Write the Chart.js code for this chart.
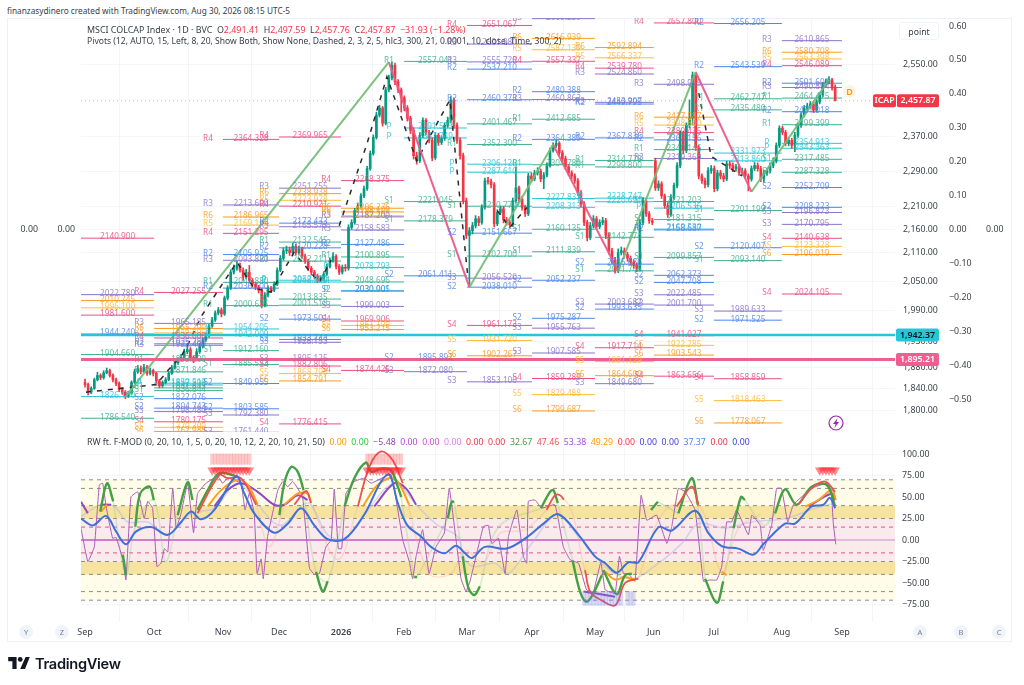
<!DOCTYPE html>
<html><head><meta charset="utf-8">
<style>
html,body{margin:0;padding:0;background:#fff;width:1024px;height:685px;overflow:hidden;font-family:"Noto Sans",sans-serif}
#panel{position:absolute;left:7px;top:18px;width:1005px;height:624px;border:1px solid #eef0f5;box-sizing:border-box}
canvas{position:absolute;left:0}
.t{position:absolute;white-space:nowrap;font-size:8.7px;color:#3a3d47;line-height:11px}
.b{position:absolute;width:14px;height:14px;border-radius:50%;background:#f0f3fa;color:#787b86;font-size:7.5px;line-height:14px;text-align:center}
.r{color:#f23645}
</style></head><body>
<div id="panel"></div>
<canvas id="c1" width="1024" height="414" style="top:18px"></canvas>
<canvas id="c2" width="1024" height="209" style="top:433px"></canvas>
<div class="t" style="left:7px;top:5px;font-size:8.25px">finanzasydinero created with TradingView.com, Aug 30, 2026 08:15 UTC-5</div>
<div class="t" style="left:87px;top:24px;font-size:8.9px">MSCI COLCAP Index · 1D · BVC &nbsp;O<span class="r">2,491.41</span> &nbsp;H<span class="r">2,497.59</span> &nbsp;L<span class="r">2,457.76</span> &nbsp;C<span class="r">2,457.87</span> &nbsp;<span class="r">−31.93 (−1.28%)</span></div>
<div class="t" style="left:87px;top:36px;font-size:8.55px">Pivots (12, AUTO, 15, Left, 8, 20, Show Both, Show None, Dashed, 2, 3, 2, 5, hlc3, 300, 21, 0.0001, 10, close, Time, 300, 2)</div>
<div class="t" style="left:899px;top:22px;width:40px;height:18px;line-height:18px;text-align:center;border:1px solid #f0f3fa;border-radius:3px;box-sizing:border-box">point</div>
<div class="t" style="left:87px;top:437px;font-size:8.75px">RW ft. F-MOD (0, 20, 10, 1, 5, 0, 20, 10, 12, 2, 20, 10, 21, 50) &nbsp;<span style="color:#ff9800">0.00</span> &nbsp;<span style="color:#2ecc40">0.00</span> &nbsp;<span style="color:#8e44ad">−5.48</span> &nbsp;<span style="color:#b14ad6">0.00</span> &nbsp;<span style="color:#d64ae0">0.00</span> &nbsp;<span style="color:#dd7fe8">0.00</span> &nbsp;<span style="color:#f23645">0.00</span> &nbsp;<span style="color:#f23645">0.00</span> &nbsp;<span style="color:#43a047">32.67</span> &nbsp;<span style="color:#ef5350">47.46</span> &nbsp;<span style="color:#a04fe0">53.38</span> &nbsp;<span style="color:#ff9800">49.29</span> &nbsp;<span style="color:#f23645">0.00</span> &nbsp;<span style="color:#3f3fd8">0.00</span> &nbsp;<span style="color:#3f3fd8">0.00</span> &nbsp;<span style="color:#4f86ec">37.37</span> &nbsp;<span style="color:#f23645">0.00</span> &nbsp;<span style="color:#3f3fd8">0.00</span></div>
<div class="b" style="left:19px;top:625px">Y</div><div class="b" style="left:55px;top:625px">Z</div>
<div class="b" style="left:913px;top:625px">A</div><div class="b" style="left:954px;top:625px">B</div><div class="b" style="left:992px;top:625px">C</div>
<div class="t" style="left:843px;top:85px;width:13px;height:13px;line-height:13px;text-align:center;color:#ff9800;background:#fff3e0;border-radius:50%;font-size:9px;font-weight:600">D</div>
<svg style="position:absolute;left:828px;top:415px" width="16" height="16" viewBox="0 0 16 16"><circle cx="8" cy="8" r="7" fill="#fff" stroke="#9c27b0" stroke-width="1.2"/><path d="M9.5 3 5 9h2.6L6.5 13 11 7H8.4z" fill="#9c27b0"/></svg>
<svg style="position:absolute;left:8px;top:657px" width="22" height="12" viewBox="0 0 36 20"><path d="M0 0h14v20H7V7H0zM29 0h7l-8 20h-8z" fill="#131722"/><circle cx="20" cy="4" r="4" fill="#131722"/></svg>
<div class="t" style="left:35px;top:654px;font-size:14.6px;line-height:20px;font-weight:600;color:#131722;font-family:Inter,sans-serif;letter-spacing:-.3px">TradingView</div>
<script src="https://cdn.jsdelivr.net/npm/chart.js@4"></script>
<script>
const monthPos=[0,22.3,44.5,62.6,82.6,102.9,123.2,144.2,164.5,183.5,202.9,224.8,244.2];
const monthLabels=["Sep","Oct","Nov","Dec","2026","Feb","Mar","Apr","May","Jun","Jul","Aug","Sep"];
const priceTicks=[2550,2370,2290,2210,2160,2110,2050,1990,1930,1880,1840,1800];
const pointTicks=[0.6,0.5,0.4,0.3,0.2,0.1,0,-0.1,-0.2,-0.3,-0.4,-0.5];
const oscTicks=[100,75,50,25,0,-25,-50,-75];
const opens=[1852,1848,1834,1841,1857,1865,1861,1870,1874,1865,1857,1850,1839,1834,1827,1832,1852,1872,1878,1872,1880,1869,1874,1869,1855,1846,1852,1857,1869,1880,1889,1895,1899,1910,1914,1899,1895,1910,1920,1933,1941,1960,1972,1986,1992,1984,2016,2036,2069,2077,2083,2073,2059,2069,2052,2044,2038,2032,2002,2022,2036,2032,2044,2073,2098,2114,2116,2110,2123,2110,2118,2102,2092,2077,2069,2061,2052,2056,2065,2081,2094,2102,2081,2069,2079,2077,2164,2175,2201,2212,2234,2250,2296,2331,2369,2423,2440,2403,2485,2515,2547,2505,2485,2465,2440,2415,2386,2326,2314,2374,2410,2381,2362,2321,2374,2357,2367,2398,2410,2460,2398,2362,2326,2223,2147,2157,2168,2183,2175,2208,2268,2266,2259,2172,2197,2205,2181,2175,2170,2223,2252,2227,2208,2194,2279,2272,2286,2290,2272,2281,2303,2338,2350,2355,2333,2319,2300,2286,2279,2268,2241,2216,2175,2142,2168,2183,2166,2175,2179,2147,2114,2094,2073,2110,2114,2106,2098,2090,2083,2077,2175,2223,2194,2179,2314,2252,2261,2234,2212,2192,2230,2257,2303,2379,2338,2398,2415,2522,2345,2279,2268,2259,2291,2296,2250,2286,2279,2272,2307,2303,2296,2300,2286,2291,2279,2272,2296,2303,2296,2272,2286,2291,2303,2314,2350,2391,2381,2355,2362,2350,2374,2398,2423,2440,2445,2450,2435,2455,2472,2497,2505,2510,2491.41];
const closes=[1848,1834,1841,1857,1865,1861,1870,1874,1865,1857,1850,1839,1834,1827,1832,1852,1872,1878,1872,1880,1869,1874,1869,1855,1846,1852,1857,1869,1880,1889,1895,1899,1910,1914,1899,1895,1910,1920,1933,1941,1960,1972,1986,1992,1984,2016,2036,2069,2077,2083,2073,2059,2069,2052,2044,2038,2032,2002,2022,2036,2032,2044,2073,2098,2114,2116,2110,2123,2110,2118,2102,2092,2077,2069,2061,2052,2056,2065,2081,2094,2102,2081,2069,2079,2077,2164,2175,2201,2212,2234,2250,2296,2331,2369,2423,2440,2403,2485,2515,2547,2505,2485,2465,2440,2415,2386,2326,2314,2374,2410,2381,2362,2321,2374,2357,2367,2398,2410,2460,2398,2362,2326,2223,2147,2157,2168,2183,2175,2208,2268,2266,2259,2172,2197,2205,2181,2175,2170,2223,2252,2227,2208,2194,2279,2272,2286,2290,2272,2281,2303,2338,2350,2355,2333,2319,2300,2286,2279,2268,2241,2216,2175,2142,2168,2183,2166,2175,2179,2147,2114,2094,2073,2110,2114,2106,2098,2090,2083,2077,2175,2223,2194,2179,2175,2252,2261,2234,2212,2192,2230,2257,2303,2379,2338,2398,2415,2522,2345,2279,2268,2259,2291,2296,2250,2286,2279,2272,2307,2303,2296,2300,2286,2291,2279,2272,2296,2303,2296,2272,2286,2291,2303,2314,2350,2391,2381,2355,2362,2350,2374,2398,2423,2440,2445,2450,2435,2455,2472,2497,2505,2510,2489.8,2457.87];
const highs=[1858,1851,1844,1860,1871,1868,1874,1879,1877,1868,1860,1853,1842,1837,1836,1855,1877,1884,1883,1886,1884,1879,1877,1871,1858,1855,1861,1872,1884,1892,1899,1905,1915,1925,1918,1902,1916,1926,1937,1946,1964,1977,1990,1997,1996,2020,2041,2074,2084,2092,2088,2078,2075,2083,2056,2048,2042,2036,2027,2041,2040,2049,2078,2104,2120,2124,2122,2130,2128,2124,2122,2107,2096,2081,2073,2065,2061,2070,2086,2099,2110,2106,2085,2084,2085,2170,2181,2206,2218,2239,2256,2301,2337,2375,2430,2447,2444,2491,2522,2556,2553,2511,2490,2470,2446,2420,2392,2334,2380,2416,2414,2386,2368,2380,2379,2373,2404,2418,2468,2465,2404,2368,2332,2229,2164,2175,2190,2188,2214,2274,2276,2272,2264,2203,2211,2210,2186,2180,2229,2300,2256,2232,2213,2285,2286,2292,2298,2295,2287,2309,2344,2356,2362,2359,2338,2325,2305,2291,2284,2273,2246,2221,2180,2175,2190,2188,2181,2186,2184,2152,2119,2100,2118,2122,2120,2111,2103,2095,2088,2182,2230,2228,2199,2184,2320,2268,2266,2238,2218,2237,2263,2310,2385,2384,2404,2460,2530,2526,2350,2284,2274,2298,2303,2302,2292,2292,2285,2313,2313,2309,2306,2305,2297,2296,2284,2302,2310,2309,2301,2292,2297,2309,2321,2356,2397,2396,2386,2369,2367,2381,2403,2429,2446,2452,2456,2456,2462,2478,2504,2512,2518,2514,2497.59];
const lows=[1843,1829,1831,1839,1855,1857,1858,1868,1862,1853,1846,1835,1830,1822,1824,1830,1850,1869,1868,1870,1865,1866,1864,1851,1842,1843,1849,1855,1867,1877,1886,1892,1896,1906,1895,1889,1893,1907,1917,1930,1938,1957,1969,1982,1978,1981,2012,2033,2065,2073,2069,2052,2055,2048,2038,2033,2026,1996,1998,2018,2027,2029,2041,2070,2094,2108,2104,2106,2105,2106,2098,2087,2072,2063,2056,2047,2049,2052,2062,2078,2090,2076,2064,2065,2071,2073,2160,2171,2197,2208,2230,2246,2292,2327,2365,2418,2396,2399,2480,2510,2498,2478,2430,2433,2408,2378,2318,2306,2310,2369,2375,2356,2314,2317,2350,2352,2362,2393,2405,2391,2355,2318,2216,2140,2042,2150,2163,2168,2171,2204,2260,2252,2165,2168,2192,2174,2169,2163,2166,2218,2221,2202,2188,2190,2266,2268,2281,2266,2250,2277,2299,2334,2345,2327,2313,2294,2280,2272,2262,2235,2209,2168,2135,2138,2163,2160,2161,2170,2140,2107,2087,2067,2068,2105,2100,2092,2084,2077,2070,2073,2170,2188,2173,2170,2246,2246,2228,2206,2186,2188,2226,2252,2298,2330,2333,2392,2400,2338,2272,2262,2252,2254,2285,2243,2245,2272,2266,2268,2296,2289,2290,2280,2281,2273,2245,2267,2291,2290,2266,2265,2280,2286,2298,2309,2345,2375,2349,2349,2343,2335,2369,2393,2418,2434,2439,2429,2430,2450,2467,2491,2500,2484,2457.76];
const tagLast=2457.87, lineCyan=1942.37, linePink=1895.21;
const zigIdx=[13,98,124,151,172,197,215,240];
const zigPrice=[1825,2555,2038,2352,2071,2530,2243,2510];
const dashIdx=[0.3,23,27,31,33.5,37.4,43,49,54.5,60,67.4,75.5,79.4,80,82,91,97.4,107,117.7,123.5,125,133,137,142.6,144,198,202,212];
const dashPrice=[1834,1848,1876,1901,1928,1978,2032,2090,2036,2028,2110,2048,2094,null,2168,2355,2518,2314,2460,2059,null,2201,2164,2208,null,2477,2324,2279];
const pivotEdges=[-1.3,22.3,44.5,62.6,82.6,102.9,123.2,144.2,164.5,183.5,202.9,224.8,244.2];
const pivSep=[["R4",2140.9],["R3",2022.78],["R6",2010.745],["R5",1996.1],["R4",1981.6],["R2",1944.24],["R1",1904.66],["P",1826.1],["S1",1786.54]];
const pivOct=[["R4",2027.255],["R3",1965.185],["R6",1955.2],["R5",1946.4],["R4",1936.6],["R2",1925.283],["R3",1922.4],["R1",1893.2],["R1",1871.846],["P",1850.513],["P",1847.2],["S1",1841.845],["S1",1836.844],["S2",1822.076],["S2",1804.743],["S3",1798.48],["S4",1780.175],["S5",1770.3],["S6",1762.988]];
const pivNov=[["R4",2364.328],["R3",2213.6],["R6",2186.965],["R5",2169.19],["R4",2151.295],["R2",2105.925],["R3",2093.82],["R1",2047.88],["R2",2036.1],["R1",2000.625],["P",1954.205],["P",1942.009],["S1",1912.16],["S1",1885.533],["S2",1849.955],["S2",1803.585],["S3",1792.38],["S3",1761.44]];
const pivDec=[["R4",2369.965],["R3",2251.255],["R6",2238.938],["R5",2223.928],["R4",2210.921],["R2",2173.433],["R3",2165.573],["R1",2132.545],["R2",2120.228],["R1",2092.211],["P",2052.3],["P",2048.5],["S1",2013.835],["S1",2001.518],["S2",1973.501],["S2",1933.744],["S3",1928.153],["S3",1895.125],["S4",1882.806],["S5",1868.798],["S6",1854.791],["S4",1776.415]];
const pivJan=[["R4",2268.375],["R6",2206.276],["R6",2198.1],["R5",2189.583],["R3",2187.2],["R3",2158.583],["R2",2127.486],["R1",2100.895],["P",2078.793],["S1",2048.696],["P",2030.905],["S2",2030.001],["S3",1999.003],["S4",1969.906],["S5",1961.1],["S6",1953.215],["S4",1874.425]];
const pivFeb=[["R1",2557.041],["P",2391.523],["P",2367.749],["S1",2221.045],["S1",2178.379],["S2",2061.411],["S2",1895.892],["S3",1872.08]];
const pivMar=[["R4",2651.067],["R3",2601.98],["R3",2555.72],["R2",2537.21],["R2",2460.373],["R1",2401.467],["R1",2352.3],["P",2306.12],["P",2287.61],["S1",2210.77],["S2",2151.667],["S1",2102.7],["S3",2056.52],["S2",2038.01],["S4",1961.173],["S5",1931.72],["S6",1902.267],["S3",1853.1]];
const pivApr=[["R3",2669.239],["R6",2616.939],["R5",2587.139],["R4",2557.337],["R2",2480.388],["R3",2460.863],["R1",2412.685],["R2",2364.389],["R1",2304.78],["P",2227.837],["P",2208.313],["S1",2160.135],["S1",2111.839],["S2",2052.237],["S2",1975.287],["S3",1955.763],["S3",1907.585],["S4",1859.289],["S5",1829.488],["S6",1799.687]];
const pivMay=[["R6",2592.894],["R5",2566.337],["R4",2539.78],["R3",2524.86],["R3",2453.907],["R2",2449.795],["R2",2367.836],["R1",2314.778],["R1",2299.8],["P",2228.747],["P",2220.691],["S1",2142.774],["S2",2085.686],["S1",2071.746],["S3",2003.687],["S2",1993.635],["S4",1917.714],["S5",1891.129],["S6",1864.6],["S3",1849.68]];
const pivJun=[["R4",2657.8],["R3",2498.955],["R6",2417.587],["R5",2398.6],["R4",2380.435],["R2",2363.156],["R1",2340.146],["R3",2319.36],["S1",2221.203],["P",2206.536],["S1",2181.315],["P",2160.53],["R2",2158.687],["S1",2099.857],["S2",2062.373],["S2",2047.708],["S3",2022.485],["S3",2001.7],["S4",1941.027],["S5",1922.285],["S6",1903.543],["S4",1863.656]];
const pivJul=[["R2",2656.205],["R2",2543.539],["R1",2462.747],["R1",2435.48],["P",2331.973],["P",2313.86],["S1",2201.199],["S2",2120.407],["S1",2093.14],["S3",1989.633],["S2",1971.525],["S4",1858.859],["S5",1818.463],["S6",1778.067]];
const pivAug=[["R3",2610.865],["R6",2580.708],["R5",2563.398],["R4",2546.089],["R2",2501.601],["R3",2490.894],["R1",2464.475],["R2",2431.018],["R1",2399.399],["P",2354.913],["P",2343.363],["S1",2317.485],["S1",2287.328],["S2",2252.709],["S2",2208.223],["S3",2196.873],["S3",2170.795],["S4",2140.638],["S5",2123.328],["S6",2106.019],["S4",2024.105]];
const pivotCols=[pivSep,pivOct,pivNov,pivDec,pivJan,pivFeb,pivMar,pivApr,pivMay,pivJun,pivJul,pivAug];
const bandTop=[70,40,25,-25,-40], bandBottom=[40,25,-25,-40,-70];
const bandColors=["#fffde9","#f7e3a0","#f9ebeb","#f7e3a0","#fffde9"];
const grayLevels=[70,60,40,25,-25,-40,-60,-70], pinkLevels=[15,-15];
const blueX=[-1.3,2.5,6.8,10,13.2,16.5,21.3,26.7,31,34.2,37.4,41.7,48.7,51.4,54.6,61,65.4,69.7,74,78.3,83.7,90,95.5,98.2,100.9,104,108.4,111.6,115.9,119.7,122.6,124.8,129,136,142.5,147.9,152.7,159.2,164.5,167.8,171.5,175.3,178.5,185,189.3,196.8,201.1,205.4,210.8,215.6,218.8,225.8,229,234.4,238.2,240.3,242];
const blueY=[25,17,28,10,-5,10,15,6,21,33,24,35,74,54,31,8.5,19,37,17,1,1,29,68,76,43,17,4,-8,-15.5,-6.6,-15.5,-21,-8,-10,3,19,30,6,-19,-27,-38,-26,-26,15,11,34,8,-7,-10,-17,-5,19,19,39,41,49,37];
const thinX=[-1.3,0.9,3,4.6,5.7,6.8,8.9,10,12.2,13.2,14.8,17,19.1,20.2,21.8,23.2,24.5,25.6,26.7,28.3,29.4,31,33.1,35,36.3,39,42.8,44.4,46,50.3,51.6,53,54.6,55.5,56.8,57.5,58.9,62.2,63.8,65.4,67,68.6,70.2,72.4,74,75.6,77.7,79.4,80.4,81.7,82.8,84.2,86.9,90.1,92.3,98.7,102.5,104.6,105.7,106.8,108.9,111,113.2,115.9,117.5,119.7,121.3,122.9,124.2,128.5,130.1,131.2,133.4,135.5,136.6,139.3,141.4,142.5,143,145.2,147.3,151.6,154.3,156.5,159.2,161.8,164,166.4,167.8,171,172.4,173.7,175.3,177.4,179.4,181.2,184.4,187.7,189.3,191.4,193.6,196.8,199.5,201.6,203.8,205.4,207,208.6,210.2,214,215.1,217.8,218.8,221.5,223.1,224.7,226.7,228.5,234.4,239.3,240.7,241.4,242.2];
const thinY=[13.6,-25,-8,64,66,39,2,3,-23,-46.5,50,56,25,45,37,-31,-27,-10,-14,60,14,31,66,8.5,54,66,74,66,72,66,35,54,31,-39,-22,-45,4,58,68,62,68,60,50,-33,-40,-39,-8,0,59,-10,-10,54,68,72,66,76,0,-25,-45,-19,12,-39,-8,8,60,0,-45,-60,-48,15.5,17,-4,2,-39,4,35,-19,-27,45,46.5,37,41,-8,-23,-27,-58,-60,-26,-58,-62,-19,-39,-39,-48,52,23,29,-4,16,60,56,35,-48,-46.5,-46.5,-31,21,21,35,6,29,17,-12,17,60,60,21,41,60,66,58,19,-5];
const greenX=[4.9,7.1,9.1,null,12.2,13.2,null,16.2,17.8,20.8,22.2,null,29.9,33.1,34.7,null,36.3,39.6,43.3,49.2,null,62.7,64.3,66.5,68.6,70.5,null,74.5,76.7,78.3,null,83.7,86.9,90.6,92.3,95.5,98.7,100.9,102,null,106.2,107.1,null,117,118.3,119.1,null,121.8,123.7,125.6,127.4,null,147.1,150,151.1,152.5,null,157.3,159.7,161.8,164,166.7,null,167.2,171.5,174.2,176.4,null,182.6,184.8,null,191.4,195.7,197.7,null,200,203.8,205.9,null,209.2,211.6,212.9,null,222.6,225.8,229.6,234.4,239.3,242];
const greenY=[33,66,45,null,-17,-41,null,15.5,54,62,46.5,null,29,67,46.5,null,35,58,77.5,74,null,29,66,85,79.5,58,null,-37,-60,-48,null,39,72,90,79.5,83,81,62,50,null,-43,-43,null,25,44.5,44.5,null,-19,-56,-64,-54,null,37,56,58,43,null,-24,-60,-72,-62,-41,null,-35,-63,-41,-39,null,35,44.5,null,31,72,41,null,-45,-73,-48,null,13.6,50,46.5,null,31,59,41,62,64,39];
const redX=[36.3,43.3,46,50.3,55.2,null,67.5,71.3,72.9,null,88,91.7,95.5,99.2,102.5,null,148.9,151.6,153.2,154.5,null,161.3,162.9,165.6,171,174.2,178.5,null,190.9,195.7,197.9,null,230.1,234.4,238.7,242];
const redY=[31,75.5,72,72,41,null,41,57,43,null,39,85,103,93,66,null,35,52,52,47,null,-35,-60,-68,-76,-50,-45,null,39,62,41,null,41,60,68,56];
const orangeX=[5.2,7.1,null,39.6,43.9,49.2,52.5,55.7,null,64.3,68.6,71.8,72.9,null,89.6,94.4,99.8,104.6,null,167.8,171,174.2,177.4,null,205.4,207,null,232.3,236.6,240.9,242.2];
const orangeY=[33,41,null,39,58,70,64,41,null,41,54,54,43,null,39,64,72,41,null,-37,-46,-43,-46.5,null,-37,-41,null,39,46.5,58,46.5];
const violetX=[-1.3,0.9,null,5,8.4,null,41.7,46,50.3,55.7,61,64.3,68.6,71.8,null,93.3,99.8,103.5,106.8,null,160.8,164.5,171,null,233.4,240.9,242];
const violetY=[44.5,31,null,41,41,null,39,58,66,56,41,41,52,46.5,null,39,66,60,41,null,-60,-62,-66,null,39,54,46.5];
const lavX=[-1.3,5,9.5,13.8,20.2,26.7,34.2,41.7,49.2,55.7,63.2,71.8,78.3,83.7,90,99.8,107.3,113.8,120.2,122.6,125.8,132.3,136.6,144.1,152.2,159.2,167.8,176.4,185,192.5,197.9,206.5,215.1,225.8,235.5,242];
const lavY=[27,41,39,21,21,6,31,37,66,41,17,43,6,2,29,66,39,17,4,-23,-31,-27,-39,-4,29,4,-31,-45,-27,-4,19,14,21,25,37,43];
const paleGreenX=[9.1,13.2,16.2,22.2,26,29.9,null,70.5,74.5,78.3,83.7,null,102,106.2,107.1,117,null,119.1,121.8,null,127.4,133.4,147.1,null,152.5,157.3,null,184.8,191.4,null,197.7,200,null,205.9,209.2,null,212.9,219,222.6];
const paleGreenY=[45,-41,15.5,46.5,-25,29,null,58,-37,-48,39,null,50,-43,-43,25,null,44.5,-19,null,-54,15,37,null,43,-24,null,44.5,31,null,41,-45,null,-48,13.6,null,46.5,17,31];
const peachX=[55.2,59.5,64.3,null,72.9,81.5,88,null,102.5,111,118,122.6,128.5,134,142,154.5,161.3,null,178.5,187,197.9,205.4,211,218];
const peachY=[41,-8,41,null,43,-23,39,null,66,-39,-39,-12,-26,8,12,47,-35,null,-45,34,41,-37,15,30];
const sellIdx=[41,42,43,44,45,46,47,48,49,50,51,52,53,null,91,92,93,94,95,96,97,98,99,100,101,102,null,237,238,239,240,241,242];
const buyBlockIdx=[161,162,163,164,165,166,167,168,169,170,171,172,173,175,176,177];
const sellBlockIdx=[41,42,43,44,45,46,47,48,49,50,51,52,53,91,92,93,94,95,96,97,98,99,100,101,102];

const bars=closes.map((_,i)=>i);
const xMin=-1.3,xMax=261.3;
const pivotColor={R1:"#3fb18f",S1:"#3fb18f",R2:"#4f86ec",S2:"#4f86ec",R3:"#8a74cc",S3:"#8a74cc",R4:"#ec4f82",S4:"#ec4f82",R5:"#fdbb3e",S5:"#fdbb3e",R6:"#fb9a1f",S6:"#fb9a1f",P:"#2cc5d8"};
const fmt2=v=>v.toLocaleString("en-US",{minimumFractionDigits:2,maximumFractionDigits:2});
const fmtP=v=>(v<0?"−":"")+Math.abs(v).toFixed(2);
const FONT='"Noto Sans",sans-serif';
const tickFont={family:FONT,size:8.8};
const tickColor="#3f424c";
const grid="#f3f5f9";
function pts(xs,ys){return xs.map((x,i)=>({x:x,y:ys[i]}));}
function line(xs,ys,color,width,extra){return Object.assign({type:"line",data:pts(xs,ys),borderColor:color,borderWidth:width,pointRadius:0,tension:0,spanGaps:false,fill:false},extra||{});}
function noPad(s){s.paddingTop=0;s.paddingBottom=0;s.paddingLeft=0;s.paddingRight=0;}

/* pivot level segments, one dataset per colour */
const segByColor={};
pivotCols.forEach((col,c)=>{col.forEach(l=>{
  const k=pivotColor[l[0]];(segByColor[k]=segByColor[k]||[]);
  segByColor[k].push({x:pivotEdges[c],y:l[1]},{x:pivotEdges[c+1],y:l[1]},{x:pivotEdges[c+1],y:null});
});});
const pivotSets=Object.keys(segByColor).map(k=>({type:"line",data:segByColor[k],borderColor:k,borderWidth:1,pointRadius:0,spanGaps:false,order:9}));

const pivotLabelPlugin={id:"pivotLabels",afterDatasetsDraw(ch){
  const {ctx,chartArea:a,scales}=ch;const X=scales.x,Y=scales.y;
  ctx.save();ctx.beginPath();ctx.rect(a.left,a.top,a.right-a.left,a.bottom-a.top);ctx.clip();
  ctx.font='8.2px '+FONT;ctx.textAlign="center";ctx.textBaseline="middle";
  pivotCols.forEach((col,c)=>{
    const s=X.getPixelForValue(pivotEdges[c]),e=X.getPixelForValue(pivotEdges[c+1]);
    col.forEach(l=>{
      const yy=Y.getPixelForValue(l[1])-1;
      ctx.fillStyle=pivotColor[l[0]];
      ctx.globalAlpha=.85;
      ctx.fillText(l[0],s-15,yy);
      ctx.fillText(l[1].toFixed(3),(s+e)/2,yy);
    });
  });
  ctx.restore();
}};
const tagPlugin={id:"tags",afterDraw(ch){
  const {ctx,scales}=ch;const Y=scales.y;
  function tag(x,w,val,bg,fg,txt){
    const y=Y.getPixelForValue(val);
    ctx.fillStyle=bg;ctx.beginPath();ctx.roundRect(x,y-6.5,w,13,2);ctx.fill();
    ctx.fillStyle=fg;ctx.font='600 8.8px '+FONT;ctx.textAlign="center";ctx.textBaseline="middle";
    ctx.fillText(txt,x+w/2,y);
  }
  ctx.save();
  tag(873,23,tagLast,"#f23645","#fff","ICAP");
  tag(897,42,tagLast,"#f23645","#fff",fmt2(tagLast));
  tag(896,43,lineCyan,"#26c6da","#111",fmt2(lineCyan));
  tag(896,43,linePink,"#ec5f8e","#fff",fmt2(linePink));
  ctx.restore();
}};
function fixedTicks(list){return s=>{s.ticks=list.map(v=>({value:v}));};}
function monthAxis(showLabels){return {type:"linear",min:xMin,max:xMax,offset:false,
  afterBuildTicks:fixedTicks(monthPos),
  afterFit:s=>{s.height=showLabels?20:0;noPad(s);},
  ticks:{display:showLabels,autoSkip:false,maxRotation:0,padding:5,color:tickColor,font:c=>({family:FONT,size:9,weight:monthLabels[c.index]==="2026"?"600":"400"}),callback:(v,i)=>monthLabels[i]},
  grid:{color:grid,drawTicks:false},border:{display:false}};}
function sideAxis(pos,min,max,ticks,w,pad,weight,fn,showGrid){return {type:"linear",position:pos,min:min,max:max,weight:weight,
  afterBuildTicks:fixedTicks(ticks),afterFit:s=>{s.width=w;noPad(s);},
  ticks:{autoSkip:false,padding:pad,color:tickColor,font:tickFont,callback:fn},
  grid:{display:!!showGrid,color:grid,drawTicks:false},border:{display:false}};}

const pMin=1762,pMax=2671;
const ptMax=0.6236,ptMin=-0.5973;
new Chart(document.getElementById("c1"),{
  type:"line",
  data:{datasets:[
    ...pivotSets,
    {type:"bar",grouped:false,order:6,barThickness:1,minBarLength:1,data:bars.map(i=>({x:i,y:[lows[i],highs[i]]})),backgroundColor:bars.map(i=>closes[i]>=opens[i]?"#089981":"#f23645")},
    {type:"bar",grouped:false,order:5,barThickness:2,minBarLength:1,data:bars.map(i=>({x:i,y:[opens[i],closes[i]]})),backgroundColor:bars.map(i=>closes[i]>=opens[i]?"#089981":"#f23645")},
    line(dashIdx,dashPrice,"#2a2a2a",1.5,{borderDash:[5,6],order:4}),
    line(zigIdx.slice(0,2),zigPrice.slice(0,2),"rgba(118,190,120,.95)",2,{order:3}),
    line(zigIdx.slice(1,3),zigPrice.slice(1,3),"rgba(236,90,135,.95)",2,{order:3}),
    line(zigIdx.slice(2,4),zigPrice.slice(2,4),"rgba(118,190,120,.95)",2,{order:3}),
    line(zigIdx.slice(3,5),zigPrice.slice(3,5),"rgba(236,90,135,.95)",2,{order:3}),
    line(zigIdx.slice(4,6),zigPrice.slice(4,6),"rgba(118,190,120,.95)",2,{order:3}),
    line(zigIdx.slice(5,7),zigPrice.slice(5,7),"rgba(236,90,135,.95)",2,{order:3}),
    line(zigIdx.slice(6,8),zigPrice.slice(6,8),"rgba(118,190,120,.95)",2,{order:3}),
    line([xMin,xMax],[tagLast,tagLast],"rgba(242,54,69,.45)",1,{borderDash:[1,3],order:2}),
    line([xMin,xMax],[lineCyan,lineCyan],"#26c6da",2.4,{order:1}),
    line([xMin,xMax],[linePink,linePink],"#ec5f8e",3,{order:1})
  ]},
  options:{responsive:false,animation:false,devicePixelRatio:1,events:[],
    layout:{autoPadding:false,padding:{left:8,right:12,top:0,bottom:0}},
    plugins:{legend:{display:false},tooltip:{enabled:false}},
    scales:{
      x:monthAxis(false),
      y:{type:"logarithmic",position:"right",min:pMin,max:pMax,weight:0,
        afterBuildTicks:fixedTicks(priceTicks),afterFit:s=>{s.width=52;noPad(s);},
        ticks:{autoSkip:false,padding:8,color:tickColor,font:tickFont,callback:v=>fmt2(v)},
        grid:{color:grid,drawTicks:false},border:{display:false}},
      y2:sideAxis("right",ptMin,ptMax,pointTicks,37,2,1,fmtP),
      y3:sideAxis("right",ptMin,ptMax,[0],28,2,2,fmtP),
      yL1:sideAxis("left",ptMin,ptMax,[0],35,5,2,fmtP),
      yL2:sideAxis("left",ptMin,ptMax,[0],38,6,1,fmtP)
    }},
  plugins:[pivotLabelPlugin,tagPlugin]
});

const oscMin=-95.35,oscMax=124.42;
const bandSets=bandTop.map((v,i)=>({type:"line",data:[{x:xMin,y:v},{x:xMax,y:v}],borderWidth:0,borderColor:"transparent",pointRadius:0,backgroundColor:bandColors[i],fill:{value:bandBottom[i]},order:20}));
const grayLines=grayLevels.map(v=>line([xMin,xMax],[v,v],"#8f8f80",1,{borderDash:[4,4],order:18}));
const pinkLines=pinkLevels.map(v=>line([xMin,xMax],[v,v],"#e0558a",1,{borderDash:[4,4],order:18}));
new Chart(document.getElementById("c2"),{
  type:"line",
  data:{datasets:[
    ...bandSets,...grayLines,...pinkLines,
    line([xMin,242],[0,0],"#c455c0",1.5,{order:17}),
    line([242,xMax],[0,0],"#d08ad0",1,{order:17}),
    line(lavX,lavY,"rgba(170,175,235,.45)",1.6,{tension:.35,order:16}),
    line(paleGreenX,paleGreenY,"rgba(150,200,150,.35)",1.6,{tension:.35,order:16}),
    line(peachX,peachY,"rgba(250,170,140,.35)",1.4,{tension:.35,order:16}),
    line(thinX,thinY,"#ab5bbd",1,{tension:.1,order:15}),
    line(violetX,violetY,"#9146c8",2,{tension:.35,order:13}),
    line(orangeX,orangeY,"#ff9d1e",2,{tension:.35,order:12}),
    line(greenX,greenY,"#43a047",2.4,{tension:.35,order:11}),
    line(redX,redY,"#ef4f4f",1.8,{tension:.35,order:10}),
    line(blueX,blueY,"#3f6fd8",2,{tension:.35,order:8}),
    {type:"bar",grouped:false,order:7,barThickness:3,data:sellBlockIdx.map(i=>({x:i,y:[88,100]})),backgroundColor:"rgba(255,60,60,.28)"},
    {type:"bar",grouped:false,order:7,barThickness:3.2,data:buyBlockIdx.map(i=>({x:i,y:[-76,-60]})),backgroundColor:"rgba(120,120,235,.28)"},
    {type:"scatter",order:6,showLine:false,data:sellIdx.map(i=>({x:i,y:i===null?null:81})),pointStyle:"triangle",rotation:180,pointRadius:5.5,pointBorderWidth:0,pointBackgroundColor:"rgba(255,40,50,.55)"}
  ]},
  options:{responsive:false,animation:false,devicePixelRatio:1,events:[],
    layout:{autoPadding:false,padding:{left:81,right:77,top:0,bottom:0}},
    plugins:{legend:{display:false},tooltip:{enabled:false}},
    scales:{
      x:monthAxis(true),
      y:sideAxis("right",oscMin,oscMax,oscTicks,52,7,0,fmtP,true)
    }}
});
</script>
</body></html>
